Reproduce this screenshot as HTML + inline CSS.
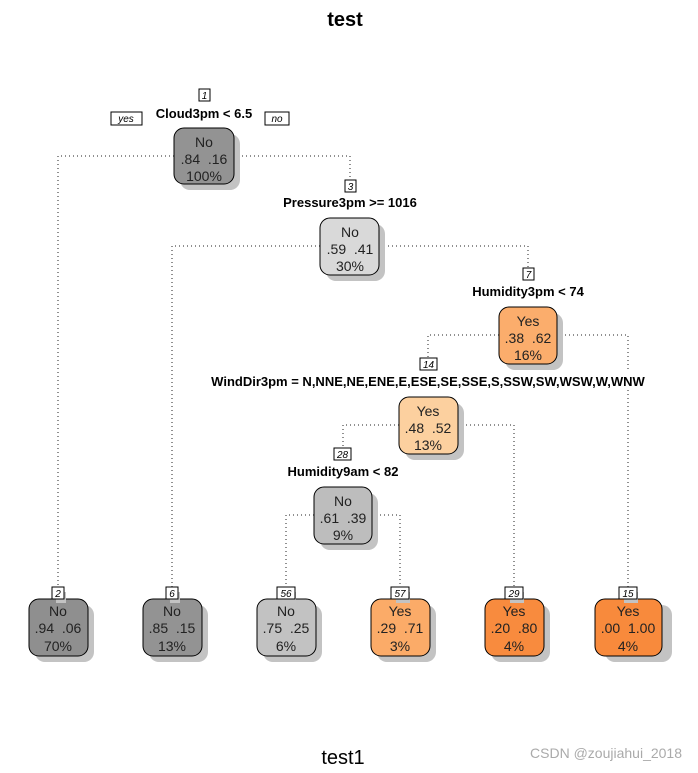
<!DOCTYPE html>
<html><head><meta charset="utf-8"><style>
html,body{margin:0;padding:0;background:#fff;}
svg{display:block;font-family:"Liberation Sans",Arial,sans-serif;}
.e{fill:none;stroke:#222;stroke-width:1;stroke-dasharray:1 3;}
.n{font-size:14px;fill:#222;text-anchor:middle;}
.s{font-size:13px;font-weight:bold;fill:#000;text-anchor:middle;}
.l{font-size:10px;font-style:italic;fill:#000;text-anchor:middle;}
</style></head><body>
<svg width="698" height="773" viewBox="0 0 698 773">
<text x="345" y="26" style="font-size:20px;font-weight:bold" text-anchor="middle">test</text>
<text x="343" y="764" style="font-size:20px" text-anchor="middle">test1</text>
<text x="682" y="758" style="font-size:14px;fill:#aaa" text-anchor="end">CSDN @zoujiahui_2018</text>

<!-- edges -->
<path class="e" d="M174 156 H58 V588"/>
<path class="e" d="M234 156 H350 V180"/>
<path class="e" d="M320 246 H172 V588"/>
<path class="e" d="M380 246 H528 V268"/>
<path class="e" d="M499 335 H428 V357"/>
<path class="e" d="M557 335 H628 V372 M628 390 V588"/>
<path class="e" d="M399 425 H343 V448"/>
<path class="e" d="M458 425 H514 V588"/>
<path class="e" d="M314 515 H286 V588"/>
<path class="e" d="M372 515 H400 V588"/>

<g id="nodes">
<!-- root -->
<rect x="180" y="134" width="60" height="56" rx="10" fill="#c3c3c3"/>
<rect x="174" y="128" width="60" height="56" rx="10" fill="#939393" stroke="#000"/>
<text class="n" x="204" y="147">No</text><text class="n" x="204" y="164">.84&#160;&#160;.16</text><text class="n" x="204" y="181">100%</text>
<!-- node3 -->
<rect x="326" y="224" width="59" height="57" rx="10" fill="#c3c3c3"/>
<rect x="320" y="218" width="59" height="57" rx="10" fill="#d9d9d9" stroke="#000"/>
<text class="n" x="350" y="237">No</text><text class="n" x="350" y="254">.59&#160;&#160;.41</text><text class="n" x="350" y="271">30%</text>
<!-- node7 -->
<rect x="505" y="313" width="58" height="57" rx="10" fill="#c3c3c3"/>
<rect x="499" y="307" width="58" height="57" rx="10" fill="#fbad6c" stroke="#000"/>
<text class="n" x="528" y="326">Yes</text><text class="n" x="528" y="343">.38&#160;&#160;.62</text><text class="n" x="528" y="360">16%</text>
<!-- node14 -->
<rect x="405" y="403" width="59" height="57" rx="10" fill="#c3c3c3"/>
<rect x="399" y="397" width="59" height="57" rx="10" fill="#fcd09f" stroke="#000"/>
<text class="n" x="428" y="416">Yes</text><text class="n" x="428" y="433">.48&#160;&#160;.52</text><text class="n" x="428" y="450">13%</text>
<!-- node28 -->
<rect x="320" y="493" width="58" height="57" rx="10" fill="#c3c3c3"/>
<rect x="314" y="487" width="58" height="57" rx="10" fill="#bdbdbd" stroke="#000"/>
<text class="n" x="343" y="506">No</text><text class="n" x="343" y="523">.61&#160;&#160;.39</text><text class="n" x="343" y="540">9%</text>

<!-- leaves -->
<rect x="35" y="605" width="59" height="57" rx="10" fill="#c3c3c3"/>
<rect x="29" y="599" width="59" height="57" rx="10" fill="#8f8f8f" stroke="#000"/>
<text class="n" x="58" y="616">No</text><text class="n" x="58" y="633">.94&#160;&#160;.06</text><text class="n" x="58" y="651">70%</text>

<rect x="149" y="605" width="59" height="57" rx="10" fill="#c3c3c3"/>
<rect x="143" y="599" width="59" height="57" rx="10" fill="#939393" stroke="#000"/>
<text class="n" x="172" y="616">No</text><text class="n" x="172" y="633">.85&#160;&#160;.15</text><text class="n" x="172" y="651">13%</text>

<rect x="263" y="605" width="59" height="57" rx="10" fill="#c3c3c3"/>
<rect x="257" y="599" width="59" height="57" rx="10" fill="#c2c2c2" stroke="#000"/>
<text class="n" x="286" y="616">No</text><text class="n" x="286" y="633">.75&#160;&#160;.25</text><text class="n" x="286" y="651">6%</text>

<rect x="377" y="605" width="59" height="57" rx="10" fill="#c3c3c3"/>
<rect x="371" y="599" width="59" height="57" rx="10" fill="#fbab68" stroke="#000"/>
<text class="n" x="400" y="616">Yes</text><text class="n" x="400" y="633">.29&#160;&#160;.71</text><text class="n" x="400" y="651">3%</text>

<rect x="491" y="605" width="59" height="57" rx="10" fill="#c3c3c3"/>
<rect x="485" y="599" width="59" height="57" rx="10" fill="#f88b3e" stroke="#000"/>
<text class="n" x="514" y="616">Yes</text><text class="n" x="514" y="633">.20&#160;&#160;.80</text><text class="n" x="514" y="651">4%</text>

<rect x="605" y="605" width="67" height="57" rx="10" fill="#c3c3c3"/>
<rect x="595" y="599" width="67" height="57" rx="10" fill="#f88a3c" stroke="#000"/>
<text class="n" x="628" y="616">Yes</text><text class="n" x="628" y="633">.00&#160;&#160;1.00</text><text class="n" x="628" y="651">4%</text>
</g>

<!-- split labels -->
<text class="s" x="204" y="118">Cloud3pm &lt; 6.5</text>
<text class="s" x="350" y="207">Pressure3pm &gt;= 1016</text>
<text class="s" x="528" y="296">Humidity3pm &lt; 74</text>
<rect x="193" y="373" width="470" height="16" fill="#fff"/>
<text class="s" x="428" y="386">WindDir3pm = N,NNE,NE,ENE,E,ESE,SE,SSE,S,SSW,SW,WSW,W,WNW</text>
<text class="s" x="343" y="476">Humidity9am &lt; 82</text>

<!-- yes/no -->
<rect x="111" y="112" width="31" height="13" fill="#fff" stroke="#000"/><text class="l" x="126" y="122">yes</text>
<rect x="265" y="112" width="24" height="13" fill="#fff" stroke="#000"/><text class="l" x="277" y="122">no</text>

<!-- node number labels -->
<g>
<rect x="199" y="89" width="11" height="12" fill="#fff" stroke="#000"/><text class="l" x="204.5" y="99">1</text>
<rect x="345" y="180" width="11" height="12" fill="#fff" stroke="#000"/><text class="l" x="350.5" y="190">3</text>
<rect x="523" y="268" width="11" height="12" fill="#fff" stroke="#000"/><text class="l" x="528.5" y="278">7</text>
<rect x="420" y="358" width="17" height="12" fill="#fff" stroke="#000"/><text class="l" x="428.5" y="368">14</text>
<rect x="334" y="448" width="17" height="12" fill="#fff" stroke="#000"/><text class="l" x="342.5" y="458">28</text>
<rect x="56" y="592" width="10" height="11" fill="#c3c3c3"/>
<rect x="52" y="587" width="12" height="12" fill="#fff" stroke="#000"/><text class="l" x="58" y="597">2</text>
<rect x="170" y="592" width="10" height="11" fill="#c3c3c3"/>
<rect x="166" y="587" width="12" height="12" fill="#fff" stroke="#000"/><text class="l" x="172" y="597">6</text>
<rect x="282" y="592" width="14" height="11" fill="#c3c3c3"/>
<rect x="277" y="587" width="18" height="12" fill="#fff" stroke="#000"/><text class="l" x="286" y="597">56</text>
<rect x="396" y="592" width="14" height="11" fill="#c3c3c3"/>
<rect x="391" y="587" width="18" height="12" fill="#fff" stroke="#000"/><text class="l" x="400" y="597">57</text>
<rect x="510" y="592" width="14" height="11" fill="#c3c3c3"/>
<rect x="505" y="587" width="18" height="12" fill="#fff" stroke="#000"/><text class="l" x="514" y="597">29</text>
<rect x="624" y="592" width="14" height="11" fill="#c3c3c3"/>
<rect x="619" y="587" width="18" height="12" fill="#fff" stroke="#000"/><text class="l" x="628" y="597">15</text>
</g>
</svg>
</body></html>
